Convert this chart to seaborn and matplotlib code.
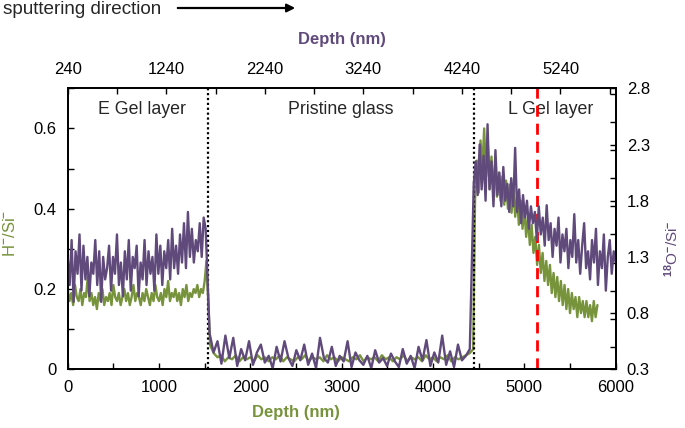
import numpy as np
import matplotlib
matplotlib.use("Agg")
import matplotlib.pyplot as plt
import seaborn as sns
from matplotlib.ticker import MultipleLocator, FixedLocator

# ---------------- data ----------------
# H-/Si- (bottom depth axis, left y axis), segments: E gel, pristine, L gel
h_e_range = (0, 1520)
h_e = [0.20, 0.17, 0.19, 0.16, 0.21, 0.18, 0.17, 0.20, 0.16, 0.19,
       0.18, 0.23, 0.17, 0.19, 0.16, 0.18, 0.15, 0.19, 0.17, 0.20,
       0.16, 0.18, 0.17, 0.19, 0.16, 0.21, 0.18, 0.17, 0.19, 0.16,
       0.18, 0.20, 0.17, 0.19, 0.16, 0.18, 0.21, 0.17, 0.19, 0.18,
       0.16, 0.19, 0.17, 0.20, 0.18, 0.16, 0.19, 0.17, 0.21, 0.18,
       0.17, 0.19, 0.16, 0.20, 0.18, 0.22, 0.17, 0.19, 0.18, 0.20,
       0.17, 0.19, 0.16, 0.20, 0.18, 0.21, 0.17, 0.19, 0.18, 0.20,
       0.19, 0.21, 0.18, 0.20, 0.19, 0.22, 0.27]
h_p_range = (1560, 4400)
h_p = [0.06, 0.04, 0.03, 0.035, 0.02, 0.03, 0.025, 0.035, 0.02, 0.03,
       0.025, 0.03, 0.02, 0.035, 0.025, 0.03, 0.02, 0.03, 0.025, 0.035,
       0.02, 0.03, 0.025, 0.02, 0.03, 0.025, 0.035, 0.02, 0.03, 0.025,
       0.03, 0.02, 0.035, 0.025, 0.03, 0.02, 0.03, 0.025, 0.02, 0.03,
       0.025, 0.035, 0.02, 0.03, 0.025, 0.03, 0.02, 0.035, 0.025, 0.03,
       0.02, 0.03, 0.025, 0.035, 0.02, 0.03, 0.025, 0.03, 0.02, 0.035,
       0.025, 0.03, 0.02, 0.03, 0.025, 0.035, 0.02, 0.03, 0.025, 0.03,
       0.035, 0.04]
h_l_range = (4440, 5800)
h_l = [0.05, 0.42, 0.52, 0.44, 0.57, 0.50, 0.60, 0.48, 0.56, 0.45,
       0.53, 0.44, 0.51, 0.43, 0.49, 0.42, 0.48, 0.41, 0.47, 0.40,
       0.46, 0.39, 0.45, 0.38, 0.43, 0.36, 0.42, 0.35, 0.40, 0.33,
       0.38, 0.31, 0.36, 0.29, 0.33, 0.26, 0.31, 0.24, 0.29, 0.22,
       0.27, 0.21, 0.26, 0.19, 0.24, 0.18, 0.23, 0.17, 0.22, 0.16,
       0.21, 0.15, 0.20, 0.14, 0.19, 0.15, 0.18, 0.13, 0.18, 0.14,
       0.17, 0.13, 0.17, 0.13, 0.16, 0.12, 0.17, 0.13, 0.16]

# 18O-/Si- (top depth axis, right y axis)
o_e_range = (240, 1640)
o_e = [1.30, 1.05, 1.45, 0.90, 1.35, 1.15, 1.50, 1.00, 1.40, 1.10,
       1.30, 0.95, 1.25, 1.15, 1.45, 1.05, 1.35, 0.90, 1.30, 1.10,
       1.20, 1.40, 1.00, 1.30, 1.15, 1.50, 1.05, 1.25, 0.95, 1.35,
       1.10, 1.45, 1.00, 1.30, 1.20, 1.40, 0.95, 1.25, 1.10, 1.45,
       1.05, 1.35, 1.15, 1.30, 1.00, 1.50, 1.15, 1.40, 1.05, 1.35,
       1.20, 1.45, 1.10, 1.55, 1.20, 1.40, 1.15, 1.50, 1.25, 1.60,
       1.20, 1.70, 1.30, 1.55, 1.25, 1.45, 1.35, 1.60, 1.30, 1.65,
       1.55]
o_p_range = (1680, 4320)
o_p = [0.62, 0.45, 0.55, 0.35, 0.60, 0.40, 0.58, 0.33, 0.48, 0.38,
       0.55, 0.34, 0.45, 0.52, 0.36, 0.42, 0.31, 0.50, 0.37, 0.55,
       0.40, 0.33, 0.47, 0.38, 0.52, 0.34, 0.44, 0.31, 0.58, 0.40,
       0.36, 0.50, 0.33, 0.42, 0.37, 0.55, 0.32, 0.45, 0.38, 0.34,
       0.42, 0.31, 0.47, 0.36, 0.40, 0.33, 0.44, 0.37, 0.32, 0.48,
       0.35, 0.42, 0.31, 0.50, 0.38, 0.56, 0.33, 0.45, 0.36, 0.60,
       0.34, 0.46, 0.32, 0.52, 0.38, 0.42, 0.48]
o_l_range = (4360, 5800)
o_l = [1.95, 2.15, 1.85, 2.30, 1.90, 2.20, 1.80, 2.48, 1.90, 2.15,
       1.75, 2.25, 1.85, 2.05, 1.75, 2.10, 1.80, 1.95, 1.70, 2.00,
       1.75, 2.27, 1.70, 1.90, 1.60, 1.85, 1.65, 1.80, 1.55, 1.75,
       1.60, 1.70, 1.45, 1.75, 1.50, 1.65, 1.40, 1.76, 1.45, 1.60,
       1.30, 1.55, 1.40, 1.65, 1.25, 1.50, 1.35, 1.55, 1.20, 1.45,
       1.30, 1.68, 1.25, 1.45, 1.15, 1.40, 1.60, 1.20, 1.35, 1.10,
       1.45, 1.25, 1.55, 1.05, 1.35, 1.20, 1.50, 1.00, 1.30, 1.45,
       1.15, 1.35, 1.25]

boundaries = [1540, 4449]
red_line = 5142
region_labels = ["E Gel layer", "Pristine glass", "L Gel layer"]
region_x = [813, 2993, 5283]

bottom_ticks = [0, 1000, 2000, 3000, 4000, 5000, 6000]
top_ticks = [240, 1240, 2240, 3240, 4240, 5240]
left_ticks = [0, 0.2, 0.4, 0.6]
right_ticks = [0.3, 0.8, 1.3, 1.8, 2.3, 2.8]


def build(segments):
    xs, ys = [], []
    for (a, b), vals in segments:
        xs.extend(np.linspace(a, b, len(vals)))
        ys.extend(vals)
    return np.array(xs), np.array(ys)


hx, hy = build([(h_e_range, h_e), (h_p_range, h_p), (h_l_range, h_l)])
ox, oy = build([(o_e_range, o_e), (o_p_range, o_p), (o_l_range, o_l)])

# ---------------- style ----------------
sns.set_style("ticks")
plt.rcParams["font.family"] = ["Liberation Sans", "DejaVu Sans"]
plt.rcParams["mathtext.fontset"] = "custom"
plt.rcParams["mathtext.rm"] = "Liberation Sans:bold"
plt.rcParams["mathtext.it"] = "Liberation Sans:bold"
plt.rcParams["mathtext.bf"] = "Liberation Sans:bold"
plt.rcParams["mathtext.default"] = "rm"

GREEN = "#77933C"
PURPLE = "#604A7B"
FS = 12

fig = plt.figure(figsize=(6.85, 4.28), dpi=100)
ax = fig.add_axes([0.0988, 0.1371, 0.8, 0.6566])
axr = ax.twinx()
axt = axr.twiny()

sns.lineplot(x=hx, y=hy, ax=ax, color=GREEN, lw=1.7, sort=False, estimator=None)
sns.lineplot(x=ox, y=oy, ax=axt, color=PURPLE, lw=1.7, sort=False, estimator=None)

ax.set_xlim(0, 6000)
ax.set_ylim(0, 0.7)
axt.set_xlim(240, 5800)
axr.set_ylim(0.3, 2.8)

for b in boundaries:
    ax.axvline(b, color="black", ls=(0, (1, 1.2)), lw=1.6, zorder=5)
ax.axvline(red_line, color="#FF0000", ls=(0, (4, 2.5)), lw=2.0, zorder=5)

for lab, xpos in zip(region_labels, region_x):
    ax.text(xpos, 0.646, lab, ha="center", va="center", fontsize=12.8)

# ticks
ax.xaxis.set_major_locator(FixedLocator(bottom_ticks))
ax.xaxis.set_minor_locator(MultipleLocator(500))
ax.set_xticklabels([str(t) for t in bottom_ticks])
ax.yaxis.set_major_locator(FixedLocator(left_ticks))
ax.yaxis.set_minor_locator(MultipleLocator(0.1))
ax.set_yticklabels(["0", "0.2", "0.4", "0.6"])
axt.xaxis.set_major_locator(FixedLocator(top_ticks))
axt.xaxis.set_minor_locator(FixedLocator([740, 1740, 2740, 3740, 4740, 5740]))
axt.set_xticklabels([str(t) for t in top_ticks])
axr.yaxis.set_major_locator(FixedLocator(right_ticks))
axr.yaxis.set_minor_locator(MultipleLocator(0.25))
axr.set_yticklabels([str(t) for t in right_ticks])

for a in (ax, axr, axt):
    a.tick_params(which="both", direction="in", length=4, width=1.0,
                  labelsize=FS, colors="black", pad=8)
    for s in a.spines.values():
        s.set_linewidth(1.1)
        s.set_color("black")
ax.tick_params(top=False, right=False)

ax.set_xlabel("Depth (nm)", color=GREEN, fontweight="bold", fontsize=FS, va="center")
ax.xaxis.set_label_coords(0.417, -0.152)
axt.set_xlabel("Depth (nm)", color=PURPLE, fontweight="bold", fontsize=FS, va="center")
axt.xaxis.set_label_coords(0.5, 1.172)
ax.set_ylabel(r"H$^{-}$/Si$^{-}$", color=GREEN, fontsize=FS, va="center")
ax.yaxis.set_label_coords(-0.105, 0.485)
axr.set_ylabel(r"$^{18}$O$^{-}$/Si$^{-}$", color=PURPLE, fontsize=11,
               rotation=90, va="center")
axr.yaxis.set_label_coords(1.103, 0.43)

fig.text(3 / 685, 1 - 9 / 428, "sputtering direction", fontsize=13.6,
         ha="left", va="center")
fig.add_artist(matplotlib.patches.FancyArrowPatch(
    (175 / 685, 1 - 8 / 428), (298 / 685, 1 - 8 / 428),
    transform=fig.transFigure, arrowstyle="-|>", mutation_scale=12,
    color="black", lw=1.6))

fig.savefig("out.png", dpi=100)
